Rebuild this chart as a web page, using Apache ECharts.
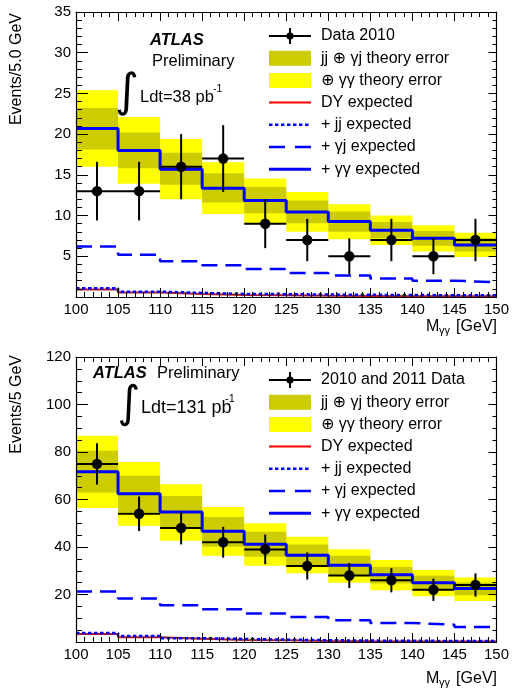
<!DOCTYPE html>
<html><head><meta charset="utf-8">
<script src="https://cdn.jsdelivr.net/npm/echarts@6/dist/echarts.min.js"></script>
<style>html,body{margin:0;padding:0;background:#fff}#c{width:512px;height:693px}</style>
</head><body><div id="c"></div>
<script>
// ---------- data ----------
const binEdges = [100, 105, 110, 115, 120, 125, 130, 135, 140, 145, 150];
const xTicks = [100, 105, 110, 115, 120, 125, 130, 135, 140, 145, 150];

// Top panel: 2010 data, 38 pb^-1
const topData     = [13, 13, 16, 17, 9, 7, 5, 7, 5, 7];
const topDataErr  = [3.6, 3.6, 4.0, 4.1, 3.0, 2.6, 2.2, 2.6, 2.2, 2.6];
const topTotal    = [20.7, 18.0, 15.7, 13.35, 11.85, 10.45, 9.26, 8.2, 7.2, 6.4];
const topYellowHi = [25.4, 22.1, 19.4, 16.55, 14.55, 12.9, 11.4, 10.0, 8.8, 7.9];
const topYellowLo = [16.0, 13.9, 12.0, 10.2, 9.1, 8.0, 7.1, 6.4, 5.6, 4.9];
const topDarkHi   = [23.2, 20.2, 17.7, 15.2, 13.5, 11.85, 10.5, 9.2, 8.1, 7.25];
const topDarkLo   = [18.1, 15.8, 13.8, 11.6, 10.3, 9.05, 8.0, 7.2, 6.3, 5.6];
const topGj       = [6.19, 5.2, 4.39, 3.9, 3.45, 2.96, 2.63, 2.26, 2.01, 1.81];
const topJj       = [1.07, 0.66, 0.5, 0.38, 0.35, 0.3, 0.27, 0.24, 0.22, 0.2];
const topDY       = [0.91, 0.54, 0.38, 0.26, 0.22, 0.15, 0.12, 0.1, 0.09, 0.08];

// Bottom panel: 2010+2011 data, 131 pb^-1
const botData     = [75, 54, 48, 42, 39, 32, 28, 26, 22, 24];
const botDataErr  = [8.7, 7.3, 6.9, 6.5, 6.2, 5.7, 5.3, 5.1, 4.7, 4.9];
const botTotal    = [71.7, 62.4, 54.7, 46.6, 41.2, 36.5, 32.3, 28.3, 25.0, 22.5];
const botYellowHi = [86.8, 75.8, 66.4, 56.8, 50.0, 44.3, 39.1, 34.5, 30.3, 27.2];
const botYellowLo = [56.4, 48.9, 42.6, 36.3, 32.1, 28.9, 24.9, 21.8, 19.3, 17.3];
const botDarkHi   = [80.5, 70.0, 61.5, 52.6, 46.4, 41.1, 36.3, 31.6, 27.9, 25.1];
const botDarkLo   = [62.9, 54.6, 47.6, 40.1, 35.9, 32.4, 28.1, 24.6, 21.8, 19.7];
const botGj       = [21.3, 18.3, 15.5, 13.8, 12.0, 10.5, 9.2, 8.0, 7.3, 6.3];
const botJj       = [3.8, 2.5, 1.6, 1.3, 1.0, 0.75, 0.6, 0.5, 0.45, 0.4];
const botDY       = [3.4, 2.0, 1.4, 0.85, 0.7, 0.4, 0.3, 0.25, 0.2, 0.2];

const topYTicks = [0, 5, 10, 15, 20, 25, 30, 35];
const botYTicks = [0, 20, 40, 60, 80, 100, 120];

// ---------- style ----------
const F = "'Liberation Sans', Arial, 'DejaVu Sans', sans-serif";
const C_DARK = '#cccc00', C_YEL = '#ffff00', C_BLUE = '#0000ff', C_RED = '#ff0000', C_REDPLOT = '#b81c1c';

function bandSeries(lo, hi, color, ai, z) {
  return {
    type: 'custom', xAxisIndex: ai * 2, yAxisIndex: ai * 2, z: z, silent: true, animation: false,
    data: lo.map((l, i) => [binEdges[i], binEdges[i + 1], l, hi[i]]),
    encode: { x: [0, 1], y: [2, 3] },
    renderItem: (params, api) => {
      const p1 = api.coord([api.value(0), api.value(3)]);
      const p2 = api.coord([api.value(1), api.value(2)]);
      return { type: 'rect', shape: { x: p1[0], y: p1[1], width: p2[0] - p1[0], height: p2[1] - p1[1] },
               style: { fill: color } };
    }
  };
}
function stepSeries(vals, color, width, dash, ai, z) {
  const d = vals.map((v, i) => [binEdges[i], v]);
  d.push([binEdges[binEdges.length - 1], vals[vals.length - 1]]);
  return { type: 'line', step: 'end', data: d, symbol: 'none', xAxisIndex: ai * 2, yAxisIndex: ai * 2,
           z: z, silent: true, animation: false,
           lineStyle: { color: color, width: width, type: dash, cap: 'butt' } };
}
function dataSeries(vals, errs, ai) {
  return {
    type: 'custom', xAxisIndex: ai * 2, yAxisIndex: ai * 2, z: 20, silent: true, animation: false,
    data: vals.map((v, i) => [binEdges[i], binEdges[i + 1], v, v - errs[i], v + errs[i]]),
    encode: { x: [0, 1], y: [2, 3, 4] },
    renderItem: (params, api) => {
      const x0 = api.value(0), x1 = api.value(1), v = api.value(2);
      const xc = (x0 + x1) / 2;
      const pl = api.coord([x0, v]), pr = api.coord([x1, v]);
      const pc = api.coord([xc, v]);
      const pt = api.coord([xc, api.value(4)]), pb = api.coord([xc, api.value(3)]);
      return { type: 'group', children: [
        { type: 'line', shape: { x1: pl[0], y1: pl[1], x2: pr[0], y2: pr[1] }, style: { stroke: '#000', lineWidth: 2 } },
        { type: 'line', shape: { x1: pt[0], y1: pt[1], x2: pb[0], y2: pb[1] }, style: { stroke: '#000', lineWidth: 2 } },
        { type: 'circle', shape: { cx: pc[0], cy: pc[1], r: 5.2 }, style: { fill: '#000' } }
      ]};
    }
  };
}
function xAxes(g, ticks) {
  const base = { type: 'value', gridIndex: g, min: ticks[0], max: ticks[ticks.length - 1], interval: ticks[1] - ticks[0],
    z: 50, splitLine: { show: false } };
  return [
    Object.assign({}, base, { position: 'bottom',
      axisLine: { show: true, onZero: false, lineStyle: { color: '#000', width: 1.2 } },
      axisTick: { show: true, inside: true, length: 9, lineStyle: { color: '#000', width: 1 } },
      minorTick: { show: true, splitNumber: 5, length: 5, lineStyle: { color: '#000', width: 1 } },
      axisLabel: { color: '#000', fontSize: 15, fontFamily: F, margin: 5 } }),
    Object.assign({}, base, { position: 'top',
      axisLine: { show: true, onZero: false, lineStyle: { color: '#000', width: 1.2 } },
      axisTick: { show: true, inside: true, length: 9, lineStyle: { color: '#000', width: 1 } },
      minorTick: { show: true, splitNumber: 5, length: 5, lineStyle: { color: '#000', width: 1 } },
      axisLabel: { show: false } })
  ];
}
function yAxes(g, ticks, minorSplit) {
  const base = { type: 'value', gridIndex: g, min: ticks[0], max: ticks[ticks.length - 1], interval: ticks[1] - ticks[0],
    z: 50, splitLine: { show: false } };
  return [
    Object.assign({}, base, { position: 'left',
      axisLine: { show: true, onZero: false, lineStyle: { color: '#000', width: 1.2 } },
      axisTick: { show: true, inside: true, length: 12, lineStyle: { color: '#000', width: 1 } },
      minorTick: { show: true, splitNumber: minorSplit, length: 6, lineStyle: { color: '#000', width: 1 } },
      axisLabel: { color: '#000', fontSize: 15, fontFamily: F, margin: 5, showMaxLabel: true,
                   formatter: v => (v === 0 ? '' : String(v)) } }),
    Object.assign({}, base, { position: 'right',
      axisLine: { show: true, onZero: false, lineStyle: { color: '#000', width: 1.2 } },
      axisTick: { show: true, inside: true, length: 8, lineStyle: { color: '#000', width: 1 } },
      minorTick: { show: true, splitNumber: minorSplit, length: 4, lineStyle: { color: '#000', width: 1 } },
      axisLabel: { show: false } })
  ];
}

// ---------- legend / labels (graphic) ----------
function txt(x, y, s, size, extra) {
  return Object.assign({ type: 'text', x: x, y: y, z: 100, silent: true,
    style: Object.assign({ text: s, fill: '#000', font: size + 'px ' + F, textVerticalAlign: 'middle' }, extra && extra.style || {}) },
    extra && extra.el || {});
}
function legend(y0, dy, dataLabel) {
  const xs = 269, xe = 311, xt = 321, xm = 290;
  const ys = [0, 1, 2, 3, 4, 5, 6].map(k => y0 + k * dy);
  const labels = [dataLabel, 'jj \u2295 \u03b3j theory error', '\u2295 \u03b3\u03b3 theory error', 'DY expected',
                  '+ jj expected', '+ \u03b3j expected', '+ \u03b3\u03b3 expected'];
  const els = [];
  els.push({ type: 'line', z: 100, shape: { x1: xs, y1: ys[0], x2: xe, y2: ys[0] }, style: { stroke: '#000', lineWidth: 2 } });
  els.push({ type: 'line', z: 100, shape: { x1: xm, y1: ys[0] - 8, x2: xm, y2: ys[0] + 8 }, style: { stroke: '#000', lineWidth: 2 } });
  els.push({ type: 'circle', z: 101, shape: { cx: xm, cy: ys[0], r: 3.6 }, style: { fill: '#000' } });
  els.push({ type: 'rect', z: 100, shape: { x: xs, y: ys[1] - 7.5, width: xe - xs, height: 15 }, style: { fill: C_DARK } });
  els.push({ type: 'rect', z: 100, shape: { x: xs, y: ys[2] - 7.5, width: xe - xs, height: 15 }, style: { fill: C_YEL } });
  els.push({ type: 'line', z: 100, shape: { x1: xs, y1: ys[3], x2: xe, y2: ys[3] }, style: { stroke: C_RED, lineWidth: 2 } });
  els.push({ type: 'line', z: 100, shape: { x1: xs, y1: ys[4], x2: xe, y2: ys[4] }, style: { stroke: C_BLUE, lineWidth: 2.5, lineDash: [3.5, 2.5] } });
  els.push({ type: 'line', z: 100, shape: { x1: xs, y1: ys[5], x2: xe, y2: ys[5] }, style: { stroke: C_BLUE, lineWidth: 2.5, lineDash: [16, 10] } });
  els.push({ type: 'line', z: 100, shape: { x1: xs, y1: ys[6], x2: xe, y2: ys[6] }, style: { stroke: C_BLUE, lineWidth: 3 } });
  labels.forEach((l, k) => els.push(txt(xt, ys[k], l, 16)));
  return els;
}
function xTitle(yc) {
  return [
    txt(426, yc, 'M', 16),
    txt(439, yc + 4, '\u03b3\u03b3', 11),
    txt(497, yc, '[GeV]', 16, { style: { textAlign: 'right' } })
  ];
}
function yTitle(ytop, s) {
  return txt(17, ytop, s, 16, { style: { textAlign: 'right' }, el: { rotation: Math.PI / 2 } });
}

const graphics = [].concat(
  legend(36, 22.2, 'Data 2010'),
  legend(380, 22.2, '2010 and 2011 Data'),
  xTitle(327), xTitle(679),
  [yTitle(13, 'Events/5.0 GeV'), yTitle(355, 'Events/5 GeV')],
  [
    txt(150, 40, 'ATLAS', 16.5, { style: { font: 'italic bold 16.5px ' + F } }),
    txt(152, 61, 'Preliminary', 16.5),
    txt(127, 94, '\u222b', 46, { style: { font: '46px "DejaVu Sans"', textAlign: 'center' } }),
    txt(140, 97, 'Ldt=38 pb', 16.5),
    txt(213, 89, '-1', 10.5),
    txt(93, 373, 'ATLAS', 16.5, { style: { font: 'italic bold 16.5px ' + F } }),
    txt(157, 373, 'Preliminary', 16.5),
    txt(129, 406, '\u222b', 44, { style: { font: '44px "DejaVu Sans"', textAlign: 'center' } }),
    txt(141, 408, 'Ldt=131 pb', 18),
    txt(225, 399, '-1', 11)
  ]
);

const option = {
  backgroundColor: '#fff',
  animation: false,
  grid: [
    { left: 76, top: 12, width: 421, height: 285, containLabel: false },
    { left: 76, top: 357, width: 421, height: 285, containLabel: false }
  ],
  xAxis: [].concat(xAxes(0, xTicks), xAxes(1, xTicks)),
  yAxis: [].concat(yAxes(0, topYTicks, 5), yAxes(1, botYTicks, 4)),
  series: [
    bandSeries(topYellowLo, topYellowHi, C_YEL, 0, 1),
    bandSeries(topDarkLo, topDarkHi, C_DARK, 0, 2),
    stepSeries(topDY, C_REDPLOT, 2, 'solid', 0, 5),
    stepSeries(topJj, C_BLUE, 2.5, [3.5, 2.5], 0, 6),
    stepSeries(topGj, C_BLUE, 2.5, [16, 8], 0, 7),
    stepSeries(topTotal, C_BLUE, 3, 'solid', 0, 8),
    dataSeries(topData, topDataErr, 0),
    bandSeries(botYellowLo, botYellowHi, C_YEL, 1, 1),
    bandSeries(botDarkLo, botDarkHi, C_DARK, 1, 2),
    stepSeries(botDY, C_REDPLOT, 2, 'solid', 1, 5),
    stepSeries(botJj, C_BLUE, 2.5, [3.5, 2.5], 1, 6),
    stepSeries(botGj, C_BLUE, 2.5, [16, 8], 1, 7),
    stepSeries(botTotal, C_BLUE, 3, 'solid', 1, 8),
    dataSeries(botData, botDataErr, 1)
  ],
  graphic: graphics
};
const chart = echarts.init(document.getElementById('c'), null, { renderer: 'canvas' });
chart.setOption(option);
</script></body></html>
